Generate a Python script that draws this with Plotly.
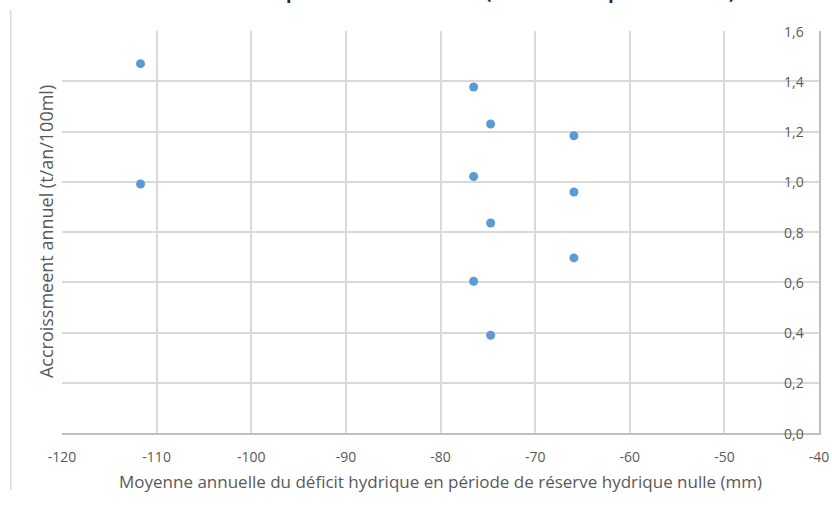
import plotly.graph_objects as go

# Annual growth vs. mean annual water deficit during zero-reserve periods
deficit_mm = [-111.7, -111.7, -76.5, -76.5, -76.5, -74.7, -74.7, -74.7, -65.9, -65.9, -65.9]
accroissement = [1.470, 0.991, 1.377, 1.021, 0.604, 1.230, 0.836, 0.389, 1.183, 0.959, 0.697]

x_ticks = [-120, -110, -100, -90, -80, -70, -60, -50, -40]
y_ticks = [0.0, 0.2, 0.4, 0.6, 0.8, 1.0, 1.2, 1.4, 1.6]

title_text = "pour la station météo (série climatique 1981-2010)"
x_title = "Moyenne annuelle du déficit hydrique en période de réserve hydrique nulle (mm)"
y_title = "Accroissmeent annuel (t/an/100ml)"

grid = "#d9d9d9"
axis_col = "#bfbfbf"
text_col = "#595959"
font_family = "Open Sans, Noto Sans, sans-serif"

fig = go.Figure(
    go.Scatter(
        x=deficit_mm,
        y=accroissement,
        mode="markers",
        marker=dict(color="#5b9bd5", size=9, line=dict(width=0)),
        showlegend=False,
    )
)

# value labels of the right-hand axis, written inside the plot area
y_labels = [
    dict(
        text=f"{v:.1f}".replace(".", ","),
        xref="paper", yref="y",
        x=1, y=v,
        xanchor="right", yanchor="middle",
        xshift=-13,
        showarrow=False,
        font=dict(size=14, color=text_col, family=font_family),
    )
    for v in y_ticks
]

fig.update_layout(
    width=832,
    height=508,
    margin=dict(l=62, r=13, t=31, b=75, autoexpand=False),
    paper_bgcolor="white",
    plot_bgcolor="white",
    separators=", ",
    font=dict(family=font_family, color=text_col),
    annotations=[
        dict(
            text="<b>" + title_text + "</b>",
            xref="paper", yref="paper",
            x=0.593, y=1.098,
            xanchor="center", yanchor="middle",
            showarrow=False,
            font=dict(size=18, color="#262626", family=font_family),
        ),
        dict(
            text=y_title,
            xref="paper", yref="paper",
            x=-0.021, y=0.5,
            xanchor="center", yanchor="middle",
            textangle=-90,
            showarrow=False,
            font=dict(size=18, color=text_col, family=font_family),
        ),
    ] + y_labels,
    shapes=[
        dict(
            type="line", xref="paper", yref="paper",
            x0=-0.0678, x1=-0.0678, y0=1.052, y1=-0.142,
            line=dict(color=grid, width=1.5),
        ),
    ],
)

fig.update_xaxes(
    range=[-120, -40],
    tickvals=x_ticks,
    ticktext=[str(v) for v in x_ticks],
    automargin=False,
    showgrid=True,
    gridcolor=grid,
    gridwidth=1.5,
    zeroline=False,
    showline=True,
    linecolor=axis_col,
    linewidth=1.5,
    ticks="",
    tickfont=dict(size=14, color=text_col),
    ticklabelstandoff=10,
    title=dict(text=x_title, font=dict(size=17, color=text_col), standoff=12),
)

fig.update_yaxes(
    range=[0, 1.6],
    tickvals=y_ticks,
    showticklabels=False,
    side="right",
    automargin=False,
    showgrid=True,
    gridcolor=grid,
    gridwidth=1.5,
    zeroline=False,
    showline=True,
    linecolor=axis_col,
    linewidth=1.5,
    ticks="",
)

fig.write_html("out.html")
